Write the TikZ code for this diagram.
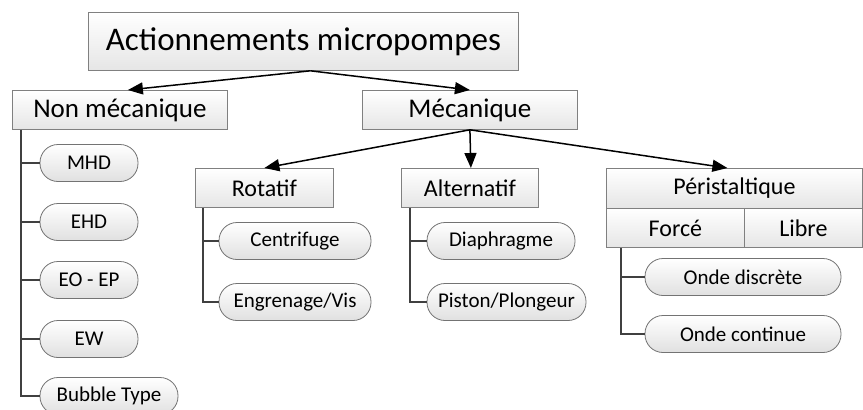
\documentclass[tikz,border=0pt]{standalone}
\usepackage{fontspec}
\setmainfont{Carlito}
\usetikzlibrary{arrows.meta}
\definecolor{boxborder}{HTML}{808080}
\definecolor{treeline}{HTML}{404040}
\tikzset{
  box/.style={draw=boxborder, line width=0.8pt, top color=white, bottom color=black!10, inner sep=0pt, anchor=north west},
  lvlone/.style={box, minimum width=215pt, minimum height=39pt, font=\fontsize{27}{30}\selectfont},
  lvltwo/.style={box, minimum height=39pt, font=\fontsize{24}{27}\selectfont},
  pill/.style={draw=black!55, line width=0.8pt, top color=white, bottom color=black!12, rounded corners=18pt, minimum height=37pt, inner sep=0pt, font=\fontsize{21}{24}\selectfont},
  arr/.style={line width=1.5pt, -{Triangle[length=15pt,width=12pt]}},
  tree/.style={draw=treeline, line width=2.4pt},
}
\begin{document}
\begin{tikzpicture}[x=1pt,y=-1pt]
\useasboundingbox (0,0) rectangle (863,410);
% level 0
\node[box, minimum width=430pt, minimum height=58pt, font=\fontsize{33}{36}\selectfont] (title) at (88,12) {Actionnements micropompes};
% level 1
\node[lvlone] (nm) at (12,90) {Non mécanique};
\node[lvlone] (mec) at (362,90) {Mécanique};
% level 2
\node[lvltwo, minimum width=138pt] (rot) at (195,168) {Rotatif};
\node[lvltwo, minimum width=137pt] (alt) at (401,168) {Alternatif};
\node[lvltwo, minimum width=256pt, minimum height=40pt] (per) at (606,168) {Péristaltique};
\node[lvltwo, minimum width=138pt] (force) at (606,208) {Forcé};
\node[lvltwo, minimum width=118pt] (libre) at (744,208) {Libre};
% pills
\node[pill, minimum width=98pt] (mhd) at (89,163) {MHD};
\node[pill, minimum width=98pt] (ehd) at (89,222) {EHD};
\node[pill, minimum width=98pt] (eo) at (89,280) {EO - EP};
\node[pill, minimum width=98pt] (ew) at (89,339) {EW};
\node[pill, minimum width=138pt] (bub) at (109,396) {Bubble Type};
\node[pill, minimum width=152pt] (cen) at (295,241) {Centrifuge};
\node[pill, minimum width=152pt] (eng) at (295,302) {Engrenage/Vis};
\node[pill, minimum width=148pt] (dia) at (501,241) {Diaphragme};
\node[pill, minimum width=159pt] (pis) at (506.5,302) {Piston/Plongeur};
\node[pill, minimum width=196pt] (od) at (743,277) {Onde discrète};
\node[pill, minimum width=196pt] (oc) at (743,334) {Onde continue};
% tree anchors
\coordinate (nmx) at ([xshift=9pt]nm.south west);
\coordinate (rotx) at ([xshift=8pt]rot.south west);
\coordinate (altx) at ([xshift=9pt]alt.south west);
\coordinate (perx) at ([xshift=15pt]force.south west);
% tree lines
\draw[tree] (nmx) |- (bub.west);
\foreach \n in {mhd,ehd,eo,ew} \draw[tree] (\n.west) -- (\n.west -| nmx);
\draw[tree] (rotx) |- (eng.west);
\draw[tree] (cen.west) -- (cen.west -| rotx);
\draw[tree] (altx) |- (pis.west);
\draw[tree] (dia.west) -- (dia.west -| altx);
\draw[tree] (perx) |- (oc.west);
\draw[tree] (od.west) -- (od.west -| perx);
% arrows
\coordinate (t0) at ([xshift=7pt]title.south);
\draw[arr] (t0) -- ([xshift=8pt]nm.north);
\draw[arr] (t0) -- (mec.north);
\draw[arr] (mec.south) -- (rot.north);
\draw[arr] (mec.south) -- ([xshift=1pt]alt.north);
\draw[arr] (mec.south) -- ([xshift=-7pt]per.north);
\end{tikzpicture}
\end{document}
